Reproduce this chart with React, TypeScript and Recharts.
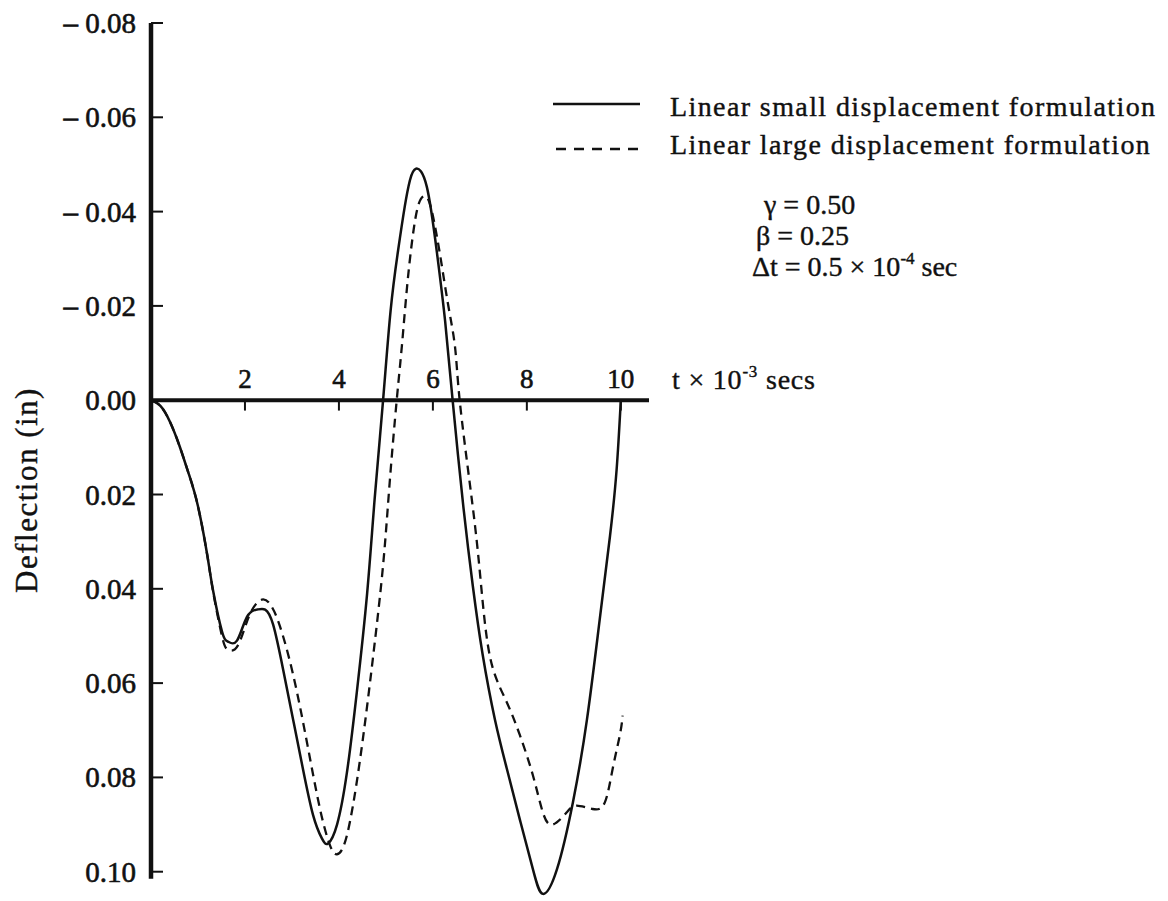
import React from 'react';
import { LineChart, Line, XAxis, YAxis, ReferenceLine, ReferenceDot } from 'recharts';

// time (x 10^-3 s) and deflection (in); positive = downward
const smallT = [0, 0.2, 0.4, 0.6, 0.8, 1.0, 1.2, 1.32, 1.51, 1.64, 1.83, 2.04, 2.26, 2.43, 2.6, 2.81, 3.02, 3.23, 3.45, 3.64, 3.77, 3.96, 4.17, 4.38, 4.6, 4.76, 4.94, 5.1, 5.26, 5.4, 5.51, 5.64, 5.87, 6.09, 6.26, 6.42, 6.64, 6.85, 7.06, 7.32, 7.57, 7.85, 8.13, 8.34, 8.64, 8.98, 9.28, 9.55, 9.77, 9.91, 10.0];
const smallY = [0, 0.0012, 0.0045, 0.0095, 0.0155, 0.0225, 0.033, 0.0403, 0.049, 0.0512, 0.051, 0.046, 0.0444, 0.0444, 0.0476, 0.057, 0.0675, 0.078, 0.088, 0.093, 0.094, 0.09, 0.079, 0.062, 0.041, 0.021, 0, -0.019, -0.0318, -0.041, -0.0466, -0.0491, -0.0453, -0.031, -0.0168, 0, 0.0218, 0.0394, 0.054, 0.0677, 0.078, 0.0889, 0.0995, 0.1047, 0.0995, 0.0853, 0.0677, 0.0466, 0.0288, 0.0148, 0];

const largeT = [0, 0.2, 0.4, 0.6, 0.8, 1.0, 1.2, 1.32, 1.51, 1.64, 1.85, 2.1, 2.36, 2.55, 2.74, 3.02, 3.32, 3.6, 3.81, 3.96, 4.17, 4.45, 4.72, 4.94, 5.08, 5.23, 5.34, 5.45, 5.57, 5.7, 5.85, 5.98, 6.15, 6.32, 6.47, 6.57, 6.79, 6.96, 7.1, 7.28, 7.57, 7.85, 8.13, 8.34, 8.55, 8.85, 9.06, 9.4, 9.66, 9.83, 9.98, 10.04];
const largeY = [0, 0.0012, 0.0045, 0.0095, 0.0155, 0.0225, 0.033, 0.0405, 0.05, 0.0529, 0.052, 0.0455, 0.0423, 0.0435, 0.0478, 0.058, 0.0726, 0.0868, 0.0944, 0.0963, 0.0923, 0.0762, 0.055, 0.035, 0.0175, 0, -0.0115, -0.024, -0.0347, -0.0417, -0.0432, -0.04, -0.031, -0.0205, -0.0114, 0, 0.018, 0.0324, 0.0466, 0.057, 0.064, 0.071, 0.0796, 0.0874, 0.09, 0.0874, 0.086, 0.0867, 0.0853, 0.078, 0.071, 0.0669];

const xTicks = [2, 4, 6, 8, 10];
const yTicks = [-0.08, -0.06, -0.04, -0.02, 0, 0.02, 0.04, 0.06, 0.08, 0.1];

const smallData = smallT.map((t, i) => ({ t, y: smallY[i] }));
const largeData = largeT.map((t, i) => ({ t, y: largeY[i] }));

const FONT = '"Liberation Serif", "Times New Roman", serif';
const INK = '#111';

function fmtY(v: number) {
  const s = Math.abs(v).toFixed(2);
  return v < 0 ? `\u2013 ${s}` : s;
}

function YTick(props: any) {
  const { x, y, payload } = props;
  return (
    <g>
      <line x1={x} x2={x + 12} y1={y} y2={y} stroke={INK} strokeWidth={2} />
      <text
        x={x - 15}
        y={y}
        textAnchor="end"
        dominantBaseline="central"
        fontFamily={FONT}
        fontSize={29}
        fill={INK}
        stroke={INK}
        strokeWidth={0.6}
      >
        {fmtY(payload.value)}
      </text>
    </g>
  );
}

const textStyle: React.CSSProperties = {
  position: 'absolute',
  fontFamily: FONT,
  fontSize: 28,
  color: INK,
  whiteSpace: 'nowrap',
  lineHeight: 1,
  WebkitTextStroke: '0.4px #111',
};

const supStyle: React.CSSProperties = {
  fontSize: 17,
  verticalAlign: 'top',
  position: 'relative',
  top: -3,
};

export default function App() {
  return (
    <div style={{ position: 'relative', width: 1152, height: 892 }}>
      <LineChart
        width={1152}
        height={892}
        margin={{ top: 15, right: 511, bottom: 0, left: 0 }}
      >
        <XAxis dataKey="t" type="number" domain={[0, 10.6]} hide allowDataOverflow />
        <YAxis
          type="number"
          domain={[-0.08, 0.106]}
          reversed
          allowDataOverflow
          ticks={yTicks}
          interval={0}
          width={143}
          axisLine={false}
          tickLine={false}
          tickSize={0}
          tickMargin={0}
          tick={<YTick />}
        />
        {/* axes drawn as reference lines so they sit at the data origin */}
        <ReferenceLine
          segment={[{ x: 0, y: -0.08 }, { x: 0, y: 0.1015 }]}
          stroke={INK}
          strokeWidth={4.5}
        />
        <ReferenceLine y={0} stroke={INK} strokeWidth={4} />
        {xTicks.map((t) => (
          <ReferenceLine
            key={`tk${t}`}
            segment={[{ x: t, y: 0 }, { x: t, y: 0.0022 }]}
            stroke={INK}
            strokeWidth={2}
          />
        ))}
        {xTicks.map((t) => (
          <ReferenceDot
            key={`lb${t}`}
            x={t}
            y={0}
            r={0}
            fill="none"
            stroke="none"
            label={{
              value: String(t),
              position: 'top',
              offset: 12,
              fontSize: 27,
              fill: INK,
              stroke: INK,
              strokeWidth: 0.6,
              fontFamily: FONT,
            }}
          />
        ))}
        <Line
          data={smallData}
          dataKey="y"
          type="natural"
          stroke={INK}
          strokeWidth={2.5}
          dot={false}
          isAnimationActive={false}
        />
        <Line
          data={largeData}
          dataKey="y"
          type="natural"
          stroke={INK}
          strokeWidth={2.3}
          strokeDasharray="9 6"
          dot={false}
          isAnimationActive={false}
        />
      </LineChart>

      {/* y axis title */}
      <div
        style={{
          ...textStyle,
          fontSize: 31,
          letterSpacing: 1.5,
          left: 18,
          top: 482,
          transform: 'translate(-50%, -50%) rotate(-90deg)',
        }}
      >
        Deflection (in)
      </div>

      {/* x axis title */}
      <div style={{ ...textStyle, left: 664, top: 372, letterSpacing: 0.8, transform: 'translateY(-50%)' }}>
        t × 10<sup style={supStyle}>-3</sup> secs
      </div>

      {/* legend */}
      <svg style={{ position: 'absolute', left: 540, top: 84 }} width={100} height={70}>
        <line x1={5} x2={92} y1={12} y2={12} stroke={INK} strokeWidth={2.5} />
        <line x1={8} x2={90} y1={57} y2={57} stroke={INK} strokeWidth={2.3} strokeDasharray="10 8" />
      </svg>
      <div style={{ ...textStyle, left: 662, top: 99, transform: 'translateY(-50%)', letterSpacing: 1.4 }}>
        Linear small displacement formulation
      </div>
      <div style={{ ...textStyle, left: 662, top: 137, transform: 'translateY(-50%)', letterSpacing: 1.4 }}>
        Linear large displacement formulation
      </div>

      {/* integration parameters */}
      <div style={{ ...textStyle, left: 756, top: 197, transform: 'translateY(-50%)' }}>
        γ = 0.50
      </div>
      <div style={{ ...textStyle, left: 748, top: 228, transform: 'translateY(-50%)' }}>
        β = 0.25
      </div>
      <div style={{ ...textStyle, left: 744, top: 259, transform: 'translateY(-50%)' }}>
        Δt = 0.5 × 10<sup style={supStyle}>-4</sup> sec
      </div>
    </div>
  );
}
